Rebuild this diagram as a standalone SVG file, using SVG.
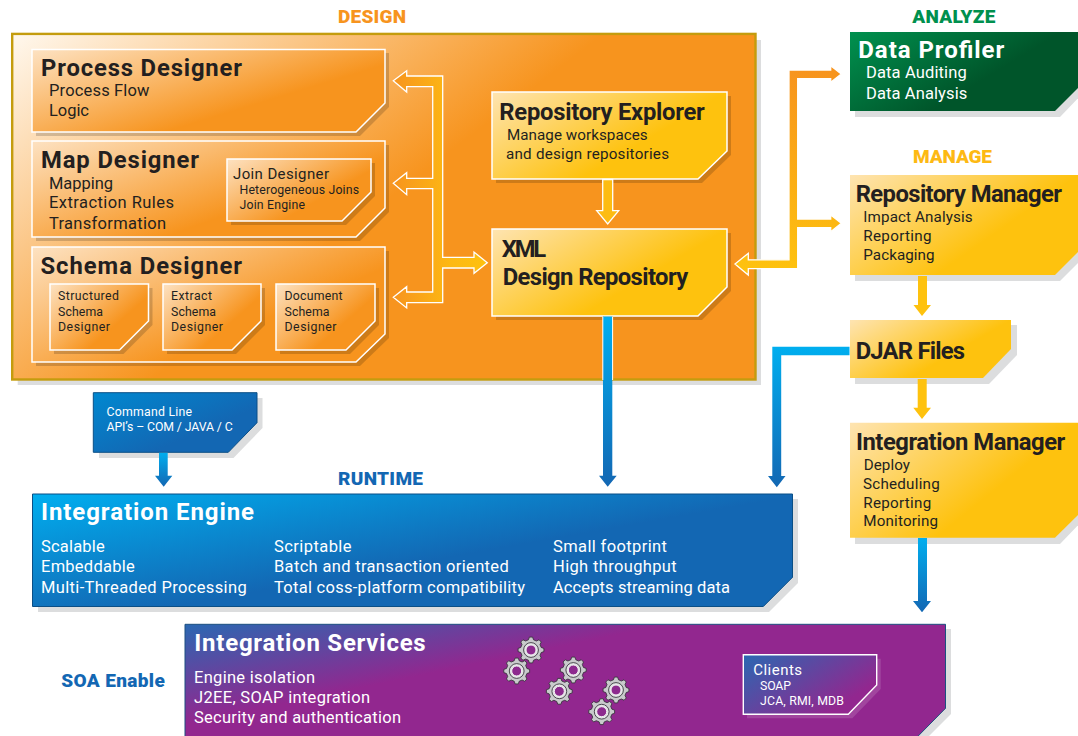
<svg xmlns="http://www.w3.org/2000/svg" width="1078" height="736" viewBox="0 0 1078 736">
<style>
text{font-family:Roboto,"Liberation Sans",sans-serif;fill:#231f20}
.sec{font-size:19px;font-weight:900}
.t{font-size:23.8px;font-weight:700}
.tw{font-size:24px;font-weight:700;fill:#fff}
.b{font-size:16.5px;font-weight:400}
.m{font-size:15.2px;font-weight:400}
.s{font-size:12.3px;font-weight:400}
.j{font-size:15px;font-weight:400}
.w{fill:#fff}
.sh{fill:#dcddde}
.si{fill:#000;fill-opacity:.17}
.o{fill:url(#gOrange);stroke:#fff;stroke-width:1.5}
.y{fill:url(#gYellow);stroke:#fff;stroke-width:1.5}
.ym{fill:url(#gYellow)}
.bl{fill:url(#gBlue);stroke:#0b4f86;stroke-width:1}
.arr{stroke:#fff;stroke-width:1.3}
.ab{fill:url(#gDown)}
</style>
<defs>
<linearGradient id="gDesign" gradientUnits="userSpaceOnUse" x1="12" y1="35" x2="230" y2="320"><stop offset="0" stop-color="#fff8ee"/><stop offset="1" stop-color="#f7941e"/></linearGradient>
<linearGradient id="gOrange" x1="0" y1="0" x2=".72" y2=".55"><stop offset="0" stop-color="#fde2c2"/><stop offset="1" stop-color="#f7941e"/></linearGradient>
<linearGradient id="gYellow" x1="0" y1="0" x2=".72" y2=".45"><stop offset="0" stop-color="#fee4b2"/><stop offset="1" stop-color="#fec20e"/></linearGradient>
<linearGradient id="gGreen" x1="0" y1="0" x2=".7" y2=".4"><stop offset="0" stop-color="#00914f"/><stop offset="1" stop-color="#00552a"/></linearGradient>
<linearGradient id="gBlue" x1="0" y1="0" x2=".6" y2=".5"><stop offset="0" stop-color="#00aeef"/><stop offset="1" stop-color="#1367b3"/></linearGradient>
<linearGradient id="gCmd" x1="0" y1="0" x2=".7" y2=".6"><stop offset="0" stop-color="#0088d0"/><stop offset="1" stop-color="#1367b3"/></linearGradient>
<linearGradient id="gPurple" x1="0" y1="0" x2=".42" y2=".3"><stop offset="0" stop-color="#2a68b2"/><stop offset="1" stop-color="#92278f"/></linearGradient>
<linearGradient id="gClients" x1="0" y1="0" x2=".9" y2=".6"><stop offset="0" stop-color="#2a68b2"/><stop offset="1" stop-color="#92278f"/></linearGradient>
<linearGradient id="gLeft" gradientUnits="userSpaceOnUse" x1="393" y1="0" x2="490" y2="0"><stop offset="0" stop-color="#f7941e"/><stop offset=".6" stop-color="#fdb913"/><stop offset="1" stop-color="#fec20e"/></linearGradient>
<linearGradient id="gRight" gradientUnits="userSpaceOnUse" x1="0" y1="70" x2="0" y2="270"><stop offset="0" stop-color="#f7941e"/><stop offset="1" stop-color="#fec20e"/></linearGradient>
<linearGradient id="gDown" x1="0" y1="0" x2="0" y2="1"><stop offset="0" stop-color="#00aeef"/><stop offset="1" stop-color="#1367b3"/></linearGradient>
<linearGradient id="gDjar" gradientUnits="userSpaceOnUse" x1="0" y1="347" x2="0" y2="487"><stop offset="0" stop-color="#00aeef"/><stop offset="1" stop-color="#1367b3"/></linearGradient>
<g id="gear">
<path d="M10.19-2.54 12.9-1.58 12.9 1.58 10.19 2.54 9 5.41 10.24 8 8 10.24 5.41 9 2.54 10.19 1.58 12.9-1.58 12.9-2.54 10.19-5.41 9-8 10.24-10.24 8-9 5.41-10.19 2.54-12.9 1.58-12.9-1.58-10.19-2.54-9-5.41-10.24-8-8-10.24-5.41-9-2.54-10.19-1.58-12.9 1.58-12.9 2.54-10.19 5.41-9 8-10.24 10.24-8 9-5.41Z" fill="#c9cacc" stroke="#2f2f33" stroke-width=".8"/>
<circle r="7.4" fill="#e4e4e6" stroke="#3a3a3e" stroke-width=".9"/>
<circle r="5" fill="#8d2a8e" stroke="#f2f2f2" stroke-width="1"/>
</g>
</defs>
<rect width="1078" height="736" fill="#fff"/>

<text class="sec" x="338" y="23" textLength="68" style="fill:#f7941e">DESIGN</text>
<text class="sec" x="912.3" y="22.7" textLength="83" style="fill:#00904e">ANALYZE</text>
<text class="sec" x="913" y="163.3" textLength="79" style="fill:#fdb913">MANAGE</text>
<text class="sec" x="338" y="485" textLength="85" style="fill:#1367b3">RUNTIME</text>
<text class="sec" x="61.3" y="687.3" textLength="103.5" style="fill:#1367b3">SOA Enable</text>

<g id="design-area">
<rect class="sh" x="17.7" y="40" width="743.3" height="345"/>
<rect x="12.2" y="33.9" width="743.3" height="345.6" fill="url(#gDesign)" stroke="#c49c0e" stroke-width="2.4"/>
</g>

<g id="process-designer">
<polygon class="si" points="36,53 389,53 389,107 360,136 36,136"/>
<polygon class="o" points="32,49.5 385,49.5 385,103 356,132 32,132"/>
<text class="t" x="41" y="76.3" textLength="201">Process Designer</text>
<text class="b" x="49" y="96.3" textLength="100.5">Process Flow</text>
<text class="b" x="49" y="116.3" textLength="40">Logic</text>
</g>

<g id="map-designer">
<polygon class="si" points="36,145 389,145 389,212 360,241 36,241"/>
<polygon class="o" points="32,141 385,141 385,208 356,237 32,237"/>
<text class="t" x="41" y="168" textLength="158">Map Designer</text>
<text class="b" x="49" y="189" textLength="64">Mapping</text>
<text class="b" x="49" y="208" textLength="125">Extraction Rules</text>
<text class="b" x="49" y="229" textLength="117">Transformation</text>
</g>

<g id="join-designer">
<polygon class="si" points="231,163 375,163 375,196 346,225 231,225"/>
<polygon class="o" points="227,159 371,159 371,192 342,221 227,221"/>
<text class="j" x="233" y="179.3" textLength="96">Join Designer</text>
<text class="s" x="239.5" y="194.3" textLength="119.5">Heterogeneous Joins</text>
<text class="s" x="239.5" y="209" textLength="65.5">Join Engine</text>
</g>

<g id="schema-designer">
<polygon class="si" points="36,251 389,251 389,338 360,366 36,366"/>
<polygon class="o" points="32,247 385,247 385,334 356,362 32,362"/>
<text class="t" x="40.5" y="273.6" textLength="201.5">Schema Designer</text>
</g>

<g id="structured-schema-designer">
<polygon class="si" points="54,288 152.5,288 152.5,325 123.5,354 54,354"/>
<polygon class="o" points="50,284 148.5,284 148.5,321 119.5,350 50,350"/>
<text class="s" x="58" y="300.3" textLength="61">Structured</text>
<text class="s" x="58" y="316.3" textLength="45">Schema</text>
<text class="s" x="58" y="331.3" textLength="52">Designer</text>
</g>

<g id="extract-schema-designer">
<polygon class="si" points="167,288 265,288 265,325 236,354 167,354"/>
<polygon class="o" points="163,284 261,284 261,321 232,350 163,350"/>
<text class="s" x="171" y="300.3" textLength="41">Extract</text>
<text class="s" x="171" y="316.3" textLength="45">Schema</text>
<text class="s" x="171" y="331.3" textLength="52">Designer</text>
</g>

<g id="document-schema-designer">
<polygon class="si" points="280,288 379,288 379,325 350,354 280,354"/>
<polygon class="o" points="276,284 375,284 375,321 346,350 276,350"/>
<text class="s" x="284.5" y="300.3" textLength="58">Document</text>
<text class="s" x="284.5" y="316.3" textLength="45">Schema</text>
<text class="s" x="284.5" y="331.3" textLength="52">Designer</text>
</g>

<g id="repository-explorer">
<polygon class="si" points="496,96 731,96 731,155 702,183 496,183"/>
<polygon class="y" points="492,92 727,92 727,151 698,179 492,179"/>
<text class="t" x="499.3" y="119.5" textLength="205.5">Repository Explorer</text>
<text class="m" x="507" y="140" textLength="140.7">Manage workspaces</text>
<text class="m" x="506" y="159" textLength="163">and design repositories</text>
</g>

<g id="xml-design-repository">
<polygon class="si" points="496,233 731,233 731,291 702,320 496,320"/>
<polygon class="y" points="492,229 727,229 727,287 698,316 492,316"/>
<text class="t" x="501.7" y="257" textLength="44.5">XML</text>
<text class="t" x="502.7" y="284.5" textLength="185.5">Design Repository</text>
</g>

<g id="data-profiler">
<polygon class="sh" points="855,37 1083,37 1083,93 1060,117 855,117"/>
<polygon points="850,32 1078,32 1078,88 1055,111 850,111" fill="url(#gGreen)"/>
<text class="tw" x="858.3" y="57.5" textLength="146">Data Profiler</text>
<text class="b w" x="866" y="78.3" textLength="100.7">Data Auditing</text>
<text class="b w" x="866" y="98.7" textLength="101.3">Data Analysis</text>
</g>

<g id="repository-manager">
<polygon class="sh" points="855,180 1083,180 1083,258 1060,281 855,281"/>
<polygon class="ym" points="850,175 1078,175 1078,252 1055,275 850,275"/>
<text class="t" x="855.7" y="202.2" textLength="206.3">Repository Manager</text>
<text class="m" x="863.3" y="222.3" textLength="109.4">Impact Analysis</text>
<text class="m" x="863.3" y="241.3" textLength="68.2">Reporting</text>
<text class="m" x="863.3" y="260" textLength="71.2">Packaging</text>
</g>

<g id="djar-files">
<polygon class="sh" points="855,325 1017,325 1017,355 989,384 855,384"/>
<polygon class="ym" points="850,320 1011,320 1011,349 983,378 850,378"/>
<text class="t" x="855.7" y="358.5" textLength="109.3">DJAR Files</text>
</g>

<g id="integration-manager">
<polygon class="sh" points="855,428 1083,428 1083,520 1060,544 855,544"/>
<polygon class="ym" points="850,422.7 1078,422.7 1078,515 1055,537.7 850,537.7"/>
<text class="t" x="856" y="450" textLength="209.3">Integration Manager</text>
<text class="m" x="863.7" y="470" textLength="46.3">Deploy</text>
<text class="m" x="863" y="489.3" textLength="76.7">Scheduling</text>
<text class="m" x="863.3" y="508.3" textLength="68">Reporting</text>
<text class="m" x="863.3" y="526" textLength="74.7">Monitoring</text>
</g>

<g id="command-line">
<polygon class="sh" points="99,398 262.5,398 262.5,428 233.5,458 99,458"/>
<polygon points="93.3,392.7 257,392.7 257,422.7 228.3,452.3 93.3,452.3" fill="url(#gCmd)" stroke="#0b4f86" stroke-width="1"/>
<text class="s w" x="106.5" y="416" textLength="85.5">Command Line</text>
<text class="s w" x="106.5" y="431" textLength="126.2">API’s – COM / JAVA / C</text>
</g>

<g id="integration-engine">
<polygon class="sh" points="38,499 798,499 798,583 769,612 38,612"/>
<polygon class="bl" points="32.5,494 792.5,494 792.5,577.3 763.3,606.5 32.5,606.5"/>
<text class="tw" x="41" y="519.6" textLength="213">Integration Engine</text>
<text class="b w" x="41" y="551.7" textLength="63.7">Scalable</text>
<text class="b w" x="41" y="571.7" textLength="93.7">Embeddable</text>
<text class="b w" x="41" y="592.7" textLength="205.7">Multi-Threaded Processing</text>
<text class="b w" x="274" y="551.7" textLength="77.5">Scriptable</text>
<text class="b w" x="274" y="571.7" textLength="234.7">Batch and transaction oriented</text>
<text class="b w" x="274" y="592.7" textLength="251">Total coss-platform compatibility</text>
<text class="b w" x="553" y="551.7" textLength="114">Small footprint</text>
<text class="b w" x="553" y="571.7" textLength="123.7">High throughput</text>
<text class="b w" x="553" y="592.7" textLength="177">Accepts streaming data</text>
</g>

<g id="integration-services">
<polygon class="sh" points="190,629 951,629 951,714 929,736 190,736"/>
<polygon points="185,624.3 945.5,624.3 945.5,708.3 917.7,736.5 185,736.5" fill="url(#gPurple)" stroke="#1c4f80" stroke-width="1"/>
<text class="tw" x="194.3" y="651" textLength="231.4">Integration Services</text>
<text class="b w" x="194" y="682.7" textLength="121">Engine isolation</text>
<text class="b w" x="194" y="702.7" textLength="176">J2EE, SOAP integration</text>
<text class="b w" x="194" y="723" textLength="207">Security and authentication</text>
<use href="#gear" x="531" y="650"/>
<use href="#gear" x="516.7" y="671"/>
<use href="#gear" x="573.3" y="670"/>
<use href="#gear" x="559.3" y="691.3"/>
<use href="#gear" x="616" y="690"/>
<use href="#gear" x="601.7" y="711.7"/>
</g>

<g id="clients">
<polygon points="747,658.7 880.7,658.7 880.7,689 852.3,718.3 747,718.3" fill="#fff" fill-opacity=".14"/>
<polygon points="743.3,654.7 876.7,654.7 876.7,685 848.3,714.3 743.3,714.3" fill="url(#gClients)" stroke="#fff" stroke-width="1.4"/>
<text class="j w" x="753.3" y="675" textLength="48.7">Clients</text>
<text class="s w" x="760" y="690" textLength="31">SOAP</text>
<text class="s w" x="760" y="705" textLength="84">JCA, RMI, MDB</text>
</g>

<g id="connectors">
<polygon class="arr" fill="url(#gLeft)" points="393.3,80.7 406.7,70.7 406.7,76 442.7,76 442.7,257.3 474,257.3 474,252 487.3,262.7 474,273.3 474,268 442.7,268 442.7,302.7 406.7,302.7 406.7,308 393.3,297.3 406.7,286.7 406.7,292 432.7,292 432.7,188.7 406.7,188.7 406.7,194.7 393.3,183.3 406.7,172.7 406.7,178.3 432.7,178.3 432.7,86.7 406.7,86.7 406.7,92"/>
<polygon class="arr" fill="#fdbc12" points="602.7,179.5 612.7,179.5 612.7,210.7 618.7,210.7 607.7,224 596.7,210.7 602.7,210.7"/>
<polygon class="arr" fill="url(#gRight)" points="735,264 748.3,253.3 748.3,259.8 789,259.8 789,70 830.7,70 830.7,65.7 841.3,74 830.7,82.3 830.7,78.7 797.7,78.7 797.7,219 830.7,219 830.7,215 841.3,223.3 830.7,231.7 830.7,227.7 797.7,227.7 797.7,268.7 748.3,268.7 748.3,275"/>
<polygon fill="#fec20e" points="918,276 927,276 927,305 931,305 922,316 913.5,305 918,305"/>
<polygon fill="#fec20e" points="917.7,379 926.7,379 926.7,407.7 931,407.7 922,419 913.3,407.7 917.7,407.7"/>
<polygon class="ab" points="918,538 927,538 927,601 931,601 922,612.3 913,601 918,601"/>
<polygon fill="url(#gDjar)" points="849.5,346.7 772.3,346.7 772.3,476 768,476 776.8,487.3 785.5,476 781.2,476 781.2,355.3 849.5,355.3"/>
<polygon class="ab" points="603,316.5 612.3,316.5 612.3,475.7 616.7,475.7 607.7,486.7 599,475.7 603,475.7"/>
<line x1="602.8" y1="317" x2="602.8" y2="380" stroke="#fff" stroke-width="1"/>
<line x1="612.6" y1="317" x2="612.6" y2="380" stroke="#fff" stroke-width="1"/>
<polygon class="ab" points="159,452.7 167.7,452.7 167.7,475.7 172.3,475.7 163.7,486.7 155,475.7 159,475.7"/>
</g>
</svg>
